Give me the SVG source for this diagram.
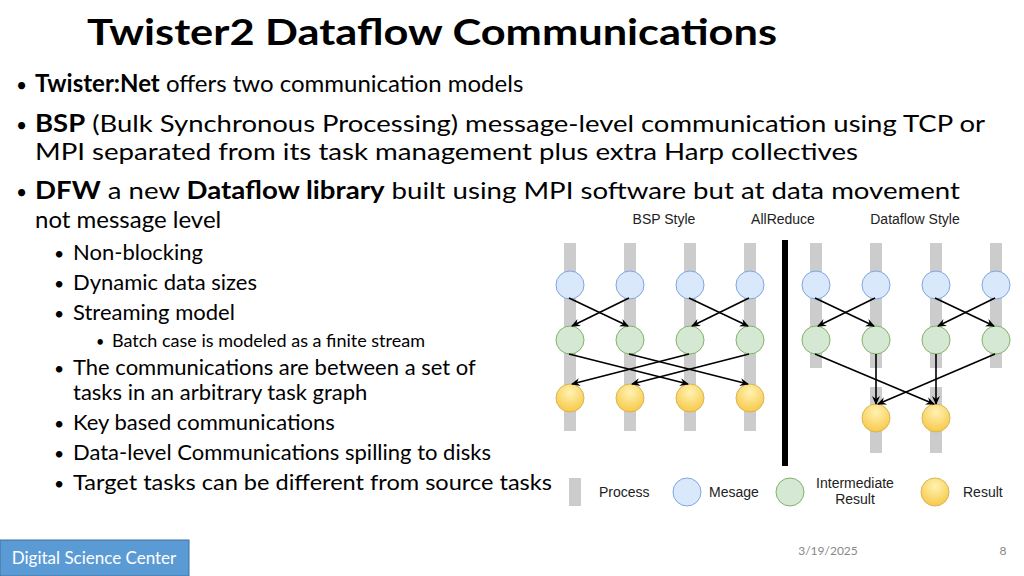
<svg xmlns="http://www.w3.org/2000/svg" width="1024" height="576" viewBox="0 0 1024 576">
<style>
.t{font-family:Lato,"Open Sans",sans-serif;fill:#000}
.b{font-size:24px}.s{font-size:22px}.ss{font-size:18px}
.bu{font-size:0.8em}
.d{font-family:"Liberation Sans",Arial,sans-serif;font-size:14px;fill:#222}
.bar{fill:#cccccc}
.m{fill:#dae8fc;stroke:#7ea6e0;stroke-width:1}
.g{fill:#d5e8d4;stroke:#82b366;stroke-width:1}
.y{fill:url(#yg);stroke:#d6b656;stroke-width:1}
.c line{stroke:#000;stroke-width:1.6;marker-end:url(#ah)}
</style>
<defs>
<marker id="ah" markerWidth="10" markerHeight="10" refX="8" refY="5" orient="auto" markerUnits="userSpaceOnUse"><path d="M0,1 L9,5 L0,9 L3,5 Z" fill="#000"/></marker>
<radialGradient id="yg" cx="0.5" cy="0.3" r="0.7"><stop offset="0" stop-color="#fff2b3"/><stop offset="1" stop-color="#f7c948"/></radialGradient>
</defs>
<rect width="1024" height="576" fill="#fff"/>
<text class="t" x="87" y="45" font-size="36" font-weight="bold" textLength="690" lengthAdjust="spacingAndGlyphs">Twister2 Dataflow Communications</text>
<g class="t b">
<text x="16" y="92"><tspan class="bu">•</tspan> <tspan x="35" font-weight="bold">Twister:Net</tspan> offers two communication models</text>
<text x="16" y="132"><tspan class="bu">•</tspan><tspan x="35" textLength="950" lengthAdjust="spacingAndGlyphs"><tspan font-weight="bold">BSP</tspan> (Bulk Synchronous Processing) message-level communication using TCP or</tspan></text>
<text x="35" y="160" textLength="823" lengthAdjust="spacingAndGlyphs">MPI separated from its task management plus extra Harp collectives</text>
<text x="16" y="199"><tspan class="bu">•</tspan><tspan x="35" textLength="925" lengthAdjust="spacingAndGlyphs"><tspan font-weight="bold">DFW</tspan> a new <tspan font-weight="bold">Dataflow library</tspan> built using MPI software but at data movement</tspan></text>
<text x="35" y="228">not message level</text>
</g>
<g class="t s">
<text x="54" y="260"><tspan class="bu">•</tspan><tspan x="73">Non-blocking</tspan></text>
<text x="54" y="290"><tspan class="bu">•</tspan><tspan x="73">Dynamic data sizes</tspan></text>
<text x="54" y="320"><tspan class="bu">•</tspan><tspan x="73">Streaming model</tspan></text>
<text x="54" y="375"><tspan class="bu">•</tspan><tspan x="73">The communications are between a set of</tspan></text>
<text x="73" y="400">tasks in an arbitrary task graph</text>
<text x="54" y="430"><tspan class="bu">•</tspan><tspan x="73">Key based communications</tspan></text>
<text x="54" y="460"><tspan class="bu">•</tspan><tspan x="73">Data-level Communications spilling to disks</tspan></text>
<text x="54" y="490"><tspan class="bu">•</tspan><tspan x="73" textLength="479" lengthAdjust="spacingAndGlyphs">Target tasks can be different from source tasks</tspan></text>
</g>
<text class="t ss" x="96" y="347"><tspan class="bu">•</tspan><tspan x="112">Batch case is modeled as a finite stream</tspan></text>

<g id="labels" class="d">
<text x="664" y="224" text-anchor="middle">BSP Style</text>
<text x="783" y="224" text-anchor="middle">AllReduce</text>
<text x="915" y="224" text-anchor="middle">Dataflow Style</text>
</g>
<rect id="divider" x="782" y="240" width="6" height="226" fill="#000"/>
<g id="bars">
<rect class="bar" x="564" y="243" width="12" height="188"/>
<rect class="bar" x="624" y="243" width="12" height="188"/>
<rect class="bar" x="684" y="243" width="12" height="188"/>
<rect class="bar" x="744" y="243" width="12" height="188"/>
<rect class="bar" x="810" y="243" width="12" height="125"/>
<rect class="bar" x="870" y="243" width="12" height="125"/>
<rect class="bar" x="930" y="243" width="12" height="125"/>
<rect class="bar" x="990" y="243" width="12" height="125"/>
<rect class="bar" x="870" y="387" width="12" height="66"/>
<rect class="bar" x="930" y="387" width="12" height="66"/>
</g>
<g id="nodes">
<circle id="m1" class="m" cx="570" cy="285" r="14"/><circle id="m2" class="m" cx="630" cy="285" r="14"/>
<circle id="m3" class="m" cx="690" cy="285" r="14"/><circle id="m4" class="m" cx="750" cy="285" r="14"/>
<circle id="g1" class="g" cx="570" cy="340" r="14"/><circle id="g2" class="g" cx="630" cy="340" r="14"/>
<circle id="g3" class="g" cx="690" cy="340" r="14"/><circle id="g4" class="g" cx="750" cy="340" r="14"/>
<circle id="y1" class="y" cx="570" cy="398" r="14"/><circle id="y2" class="y" cx="630" cy="398" r="14"/>
<circle id="y3" class="y" cx="690" cy="398" r="14"/><circle id="y4" class="y" cx="750" cy="398" r="14"/>
<circle id="dm1" class="m" cx="816" cy="285" r="14"/><circle id="dm2" class="m" cx="876" cy="285" r="14"/>
<circle id="dm3" class="m" cx="936" cy="285" r="14"/><circle id="dm4" class="m" cx="996" cy="285" r="14"/>
<circle id="dg1" class="g" cx="816" cy="340" r="14"/><circle id="dg2" class="g" cx="876" cy="340" r="14"/>
<circle id="dg3" class="g" cx="936" cy="340" r="14"/><circle id="dg4" class="g" cx="996" cy="340" r="14"/>
<circle id="dy1" class="y" cx="876" cy="418" r="14"/><circle id="dy2" class="y" cx="936" cy="418" r="14"/>
</g>
<g id="connectors" class="c">
<line x1="569" y1="298" x2="628" y2="326"/><line x1="629" y1="298" x2="572" y2="326"/>
<line x1="689" y1="298" x2="748" y2="326"/><line x1="749" y1="298" x2="692" y2="326"/>
<line x1="569" y1="354" x2="688" y2="384"/><line x1="629" y1="354" x2="748" y2="384"/>
<line x1="689" y1="354" x2="572" y2="384"/><line x1="749" y1="354" x2="632" y2="384"/>
<line x1="815" y1="298" x2="874" y2="326"/><line x1="875" y1="298" x2="818" y2="326"/>
<line x1="935" y1="298" x2="994" y2="326"/><line x1="995" y1="298" x2="938" y2="326"/>
<line x1="815" y1="354" x2="934" y2="404"/><line x1="876" y1="354" x2="876" y2="404"/>
<line x1="936" y1="354" x2="936" y2="404"/><line x1="995" y1="354" x2="878" y2="404"/>
</g>
<g id="legend" class="d">
<rect class="bar" x="569" y="478" width="12" height="28"/>
<text x="599" y="497">Process</text>
<circle class="m" cx="687" cy="492" r="14"/>
<text x="709" y="497">Mesage</text>
<circle class="g" cx="790" cy="492" r="14"/>
<text x="855" y="488" text-anchor="middle">Intermediate</text>
<text x="855" y="504" text-anchor="middle">Result</text>
<circle class="y" cx="935" cy="492" r="14"/>
<text x="963" y="497">Result</text>
</g>
<rect x="0" y="540" width="189" height="36" fill="#5b9bd5" stroke="#41719c"/>
<text x="94" y="564" text-anchor="middle" font-family="Lato,sans-serif" font-size="17" fill="#fff">Digital Science Center</text>
<text x="828" y="555" text-anchor="middle" font-family="Lato,sans-serif" font-size="12" fill="#888">3/19/2025</text>
<text x="1003" y="555" text-anchor="middle" font-family="Lato,sans-serif" font-size="12" fill="#888">8</text>
</svg>
